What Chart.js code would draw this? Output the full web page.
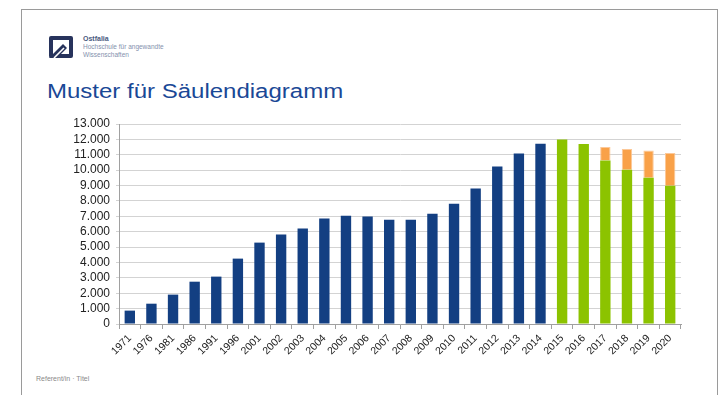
<!DOCTYPE html>
<html lang="de">
<head>
<meta charset="utf-8">
<title>Muster für Säulendiagramm</title>
<script src="https://cdn.jsdelivr.net/npm/chart.js@4/dist/chart.umd.min.js"></script>
<style>
  html, body {
    margin: 0;
    padding: 0;
    background: #ffffff;
    font-family: "Liberation Sans", Arial, sans-serif;
  }
  .slide {
    position: relative;
    width: 719px;
    height: 395px;
    overflow: hidden;
  }
  .frame {
    position: absolute;
    left: 21px;
    top: 9px;
    width: 695px;
    height: 400px;
    border: 1px solid #9a9a9a;
    border-bottom: none;
  }
  .logo {
    position: absolute;
    left: 48px;
    top: 35px;
  }
  .logo-text {
    position: absolute;
    left: 83px;
    top: 35px;
    font-size: 6.5px;
    line-height: 8px;
    color: #8491ad;
    white-space: nowrap;
  }
  .logo-text b {
    font-size: 7px;
    color: #4a5a80;
  }
  h1 {
    position: absolute;
    left: 47px;
    top: 80px;
    margin: 0;
    font-size: 20px;
    font-weight: normal;
    color: #1a4896;
    transform: scaleX(1.2);
    transform-origin: left top;
    white-space: nowrap;
  }
  .footer {
    position: absolute;
    left: 36px;
    top: 375px;
    font-size: 7px;
    color: #8a8a8a;
  }
  .chart-box {
    position: absolute;
    left: 40px;
    top: 110px;
    width: 660px;
    height: 260px;
  }
</style>
</head>
<body>
<div class="slide">
  <div class="frame"></div>

  <!-- Hochschul-Logo -->
  <svg class="logo" width="26" height="24" viewBox="0 0 26 24">
    <rect x="1" y="1" width="24" height="22" rx="2" fill="#27335c"/>
    <rect x="5" y="5" width="16" height="14" fill="#ffffff"/>
    <path d="M1 23 L15 9 L19 13 L9 23 Z" fill="#27335c"/>
    <path d="M6 23 L16 13" stroke="#ffffff" stroke-width="1.6"/>
  </svg>
  <div class="logo-text">
    <b>Ostfalia</b><br>
    Hochschule für angewandte<br>
    Wissenschaften
  </div>

  <h1>Muster für Säulendiagramm</h1>

  <div class="chart-box">
    <canvas id="saeulen"></canvas>
  </div>

  <div class="footer">Referent/in · Titel</div>
</div>

<script>
// Kategorien und Werte
const years = [
  "1971", "1976", "1981", "1986", "1991", "1996", "2001", "2002", "2003", "2004",
  "2005", "2006", "2007", "2008", "2009", "2010", "2011", "2012", "2013", "2014",
  "2015", "2016", "2017", "2018", "2019", "2020"
];

// Ist-Werte bis 2014
const historic = [
  870, 1320, 1910, 2750, 3080, 4250, 5290, 5810, 6200, 6850,
  7040, 6980, 6780, 6780, 7170, 7820, 8800, 10230, 11080, 11720,
  null, null, null, null, null, null
];

// Werte ab 2015
const forecast = [
  null, null, null, null, null, null, null, null, null, null,
  null, null, null, null, null, null, null, null, null, null,
  12000, 11700, 10620, 10030, 9510, 8990
];

// Zusatzanteil (oben aufgesetzt)
const extra = [
  null, null, null, null, null, null, null, null, null, null,
  null, null, null, null, null, null, null, null, null, null,
  null, null, 890, 1350, 1760, 2120
];

const yTicks = { min: 0, max: 13000, step: 1000 };

// 13000 -> "13.000"
function formatDE(v) {
  return String(v).replace(/\B(?=(\d{3})+(?!\d))/g, ".");
}

Chart.defaults.font.family = '"Liberation Sans", Arial, sans-serif';
Chart.defaults.color = "#222222";

new Chart(document.getElementById("saeulen").getContext("2d"), {
  type: "bar",
  data: {
    labels: years,
    datasets: [
      {
        data: historic,
        backgroundColor: "#133f82",
        barPercentage: 0.48,
        categoryPercentage: 1
      },
      {
        data: forecast,
        backgroundColor: "#8cc300",
        barPercentage: 0.48,
        categoryPercentage: 1
      },
      {
        data: extra,
        backgroundColor: "#f9a148",
        borderColor: "#fcc898",
        borderWidth: { top: 1, left: 1, right: 1, bottom: 0 },
        barPercentage: 0.48,
        categoryPercentage: 1
      }
    ]
  },
  options: {
    responsive: true,
    maintainAspectRatio: false,
    animation: false,
    layout: {
      padding: { top: 14, right: 19, bottom: 0, left: 0 }
    },
    plugins: {
      legend: { display: false },
      tooltip: { enabled: false }
    },
    scales: {
      x: {
        stacked: true,
        grid: {
          offset: true,
          drawOnChartArea: false,
          drawTicks: true,
          tickLength: 5,
          color: "#a0a0a0"
        },
        border: { color: "#a0a0a0", width: 1 },
        ticks: {
          minRotation: 45,
          maxRotation: 45,
          autoSkip: false,
          padding: 3,
          font: { size: 10.5 },
          color: "#222222"
        },
        afterFit: (scale) => {
          scale.height = 46;
        }
      },
      y: {
        stacked: true,
        min: yTicks.min,
        max: yTicks.max,
        grid: {
          color: "#d3d3d3",
          lineWidth: 1,
          tickLength: 3
        },
        border: { color: "#a0a0a0", width: 1 },
        ticks: {
          stepSize: yTicks.step,
          autoSkip: false,
          padding: 6,
          font: { size: 12 },
          color: "#222222",
          callback: (v) => formatDE(v)
        },
        afterFit: (scale) => {
          scale.width = 79;
        }
      }
    }
  }
});
</script>
</body>
</html>
